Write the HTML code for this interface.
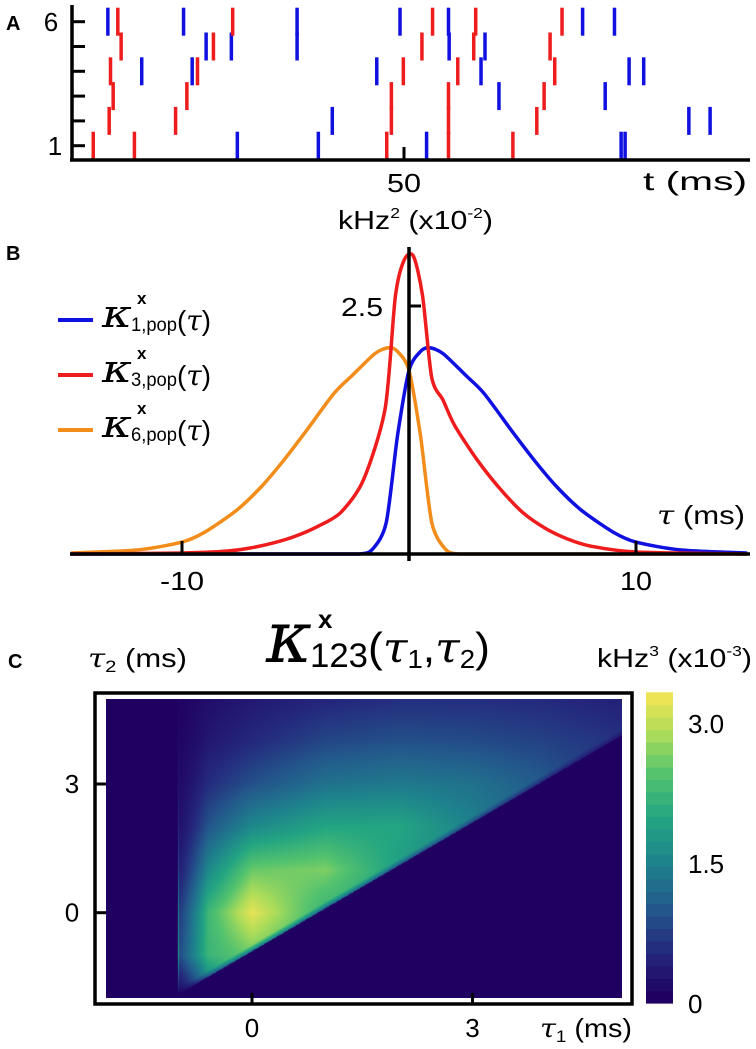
<!DOCTYPE html>
<html><head><meta charset="utf-8"><style>
html,body{margin:0;padding:0;background:#fff;}
#wrap{position:relative;width:756px;height:1049px;overflow:hidden;}
svg{position:absolute;left:0;top:0;}
text{font-family:"Liberation Sans",sans-serif;fill:#000;}
.k{font-family:"DejaVu Serif","Liberation Serif",serif;font-style:italic;}
#heat{position:absolute;left:106px;top:699px;}
</style></head><body>
<div id="wrap">
<canvas id="heat" width="516" height="299"></canvas>
<svg id="fig" width="756" height="1049">
 <g>
  <text x="6" y="30" font-size="20" font-weight="bold">A</text>
  <g id="spikes"></g>
  <line x1="72" y1="5" x2="72" y2="161" stroke="#000" stroke-width="3.5"/>
  <line x1="70" y1="160" x2="750" y2="160" stroke="#000" stroke-width="3.5"/>
  <g id="aticks"></g>
  <line x1="404" y1="147" x2="404" y2="160" stroke="#000" stroke-width="3"/>
  <text x="51" y="31" font-size="26" text-anchor="middle">6</text>
  <text x="55" y="155" font-size="26" text-anchor="middle">1</text>
  <text x="404" y="192" font-size="26" text-anchor="middle" textLength="34" lengthAdjust="spacingAndGlyphs">50</text>
  <text x="643" y="190" font-size="26" textLength="104" lengthAdjust="spacingAndGlyphs">t (ms)</text>
 </g>
 <g>
  <text x="6" y="260" font-size="20" font-weight="bold">B</text>
  <text x="338" y="229" font-size="26" textLength="155" lengthAdjust="spacingAndGlyphs">kHz<tspan font-size="15" dy="-11">2</tspan><tspan dy="11"> (x10</tspan><tspan font-size="15" dy="-11">-2</tspan><tspan dy="11">)</tspan></text>
  <g id="curves"></g>
  <line x1="409" y1="247" x2="409" y2="561" stroke="#000" stroke-width="3.5"/>
  <line x1="70" y1="554" x2="750" y2="554" stroke="#000" stroke-width="3.5"/>
  <g id="bticks"></g>
  <text x="341" y="316" font-size="26" textLength="42" lengthAdjust="spacingAndGlyphs">2.5</text>
  <text x="182" y="590" font-size="26" text-anchor="middle" textLength="44" lengthAdjust="spacingAndGlyphs">-10</text>
  <text x="636" y="590" font-size="26" text-anchor="middle" textLength="32" lengthAdjust="spacingAndGlyphs">10</text>
  <text x="657" y="524" font-size="26" textLength="88" lengthAdjust="spacingAndGlyphs"><tspan class="k">τ</tspan> (ms)</text>
  <g>
   <g>
    <line x1="58" y1="320" x2="93" y2="320" stroke="#1010e0" stroke-width="4"/>
    <text x="102" y="327" font-size="38" class="k" textLength="30" lengthAdjust="spacingAndGlyphs">κ</text>
    <text x="137" y="304" font-size="17" font-weight="bold">x</text>
    <text x="131" y="331" font-size="19" textLength="46" lengthAdjust="spacingAndGlyphs">1,pop</text>
    <text x="177" y="330" font-size="28" textLength="34" lengthAdjust="spacingAndGlyphs">(<tspan class="k">τ</tspan>)</text>
   </g>
   <g>
    <line x1="58" y1="375" x2="93" y2="375" stroke="#ee1c1c" stroke-width="4"/>
    <text x="102" y="382" font-size="38" class="k" textLength="30" lengthAdjust="spacingAndGlyphs">κ</text>
    <text x="137" y="359" font-size="17" font-weight="bold">x</text>
    <text x="131" y="386" font-size="19" textLength="46" lengthAdjust="spacingAndGlyphs">3,pop</text>
    <text x="177" y="385" font-size="28" textLength="34" lengthAdjust="spacingAndGlyphs">(<tspan class="k">τ</tspan>)</text>
   </g>
   <g>
    <line x1="58" y1="430" x2="93" y2="430" stroke="#f28c1a" stroke-width="4"/>
    <text x="102" y="437" font-size="38" class="k" textLength="30" lengthAdjust="spacingAndGlyphs">κ</text>
    <text x="137" y="414" font-size="17" font-weight="bold">x</text>
    <text x="131" y="441" font-size="19" textLength="46" lengthAdjust="spacingAndGlyphs">6,pop</text>
    <text x="177" y="440" font-size="28" textLength="34" lengthAdjust="spacingAndGlyphs">(<tspan class="k">τ</tspan>)</text>
   </g>
  </g>
 </g>
 <g>
  <text x="8" y="668" font-size="20" font-weight="bold">C</text>
  <g>
   <text x="266" y="662" font-size="72" class="k" textLength="46" lengthAdjust="spacingAndGlyphs">κ</text>
   <text x="318" y="628" font-size="26" font-weight="bold">x</text>
   <text x="310" y="667" font-size="34" textLength="58" lengthAdjust="spacingAndGlyphs">123</text>
   <text x="368" y="662" font-size="42" textLength="122" lengthAdjust="spacingAndGlyphs">(<tspan class="k">τ</tspan><tspan font-size="26" dy="6">1</tspan><tspan dy="-6">,</tspan><tspan class="k">τ</tspan><tspan font-size="26" dy="6">2</tspan><tspan dy="-6">)</tspan></text>
  </g>
  <text x="88" y="667" font-size="26" textLength="99" lengthAdjust="spacingAndGlyphs"><tspan class="k">τ</tspan><tspan font-size="17" dy="5">2</tspan><tspan dy="-5"> (ms)</tspan></text>
  <text x="597" y="667" font-size="26" textLength="155" lengthAdjust="spacingAndGlyphs">kHz<tspan font-size="15" dy="-11">3</tspan><tspan dy="11"> (x10</tspan><tspan font-size="15" dy="-11">-3</tspan><tspan dy="11">)</tspan></text>
  <rect x="95" y="693" width="537" height="311" fill="none" stroke="#000" stroke-width="3.5"/>
  <g id="cticks"></g>
  <g id="cbar"></g>
  <text x="540" y="1037" font-size="26" textLength="92" lengthAdjust="spacingAndGlyphs"><tspan class="k">τ</tspan><tspan font-size="17" dy="5">1</tspan><tspan dy="-5"> (ms)</tspan></text>
 </g>
</svg>
</div>
<script>
const rowLabels = [1,2,3,4,5,6];
const redSpikes = [
 [3.2,9.4,47.4,56.7,66.4],
 [5.6,15.6,48.1,56.7,70.0],
 [6.2,17.3,48.1,56.7,71.1],
 [5.8,18.9,49.9,58.1,72.7],
 [7.4,21.3,52.7,60.5,72.0],
 [6.9,24.2,54.3,60.8,73.8]
];
const blueSpikes = [
 [24.9,37.1,53.4,82.7,83.3],
 [39.2,92.9,96.1],
 [64.3,80.3],
 [10.5,18.1,45.9,61.6,83.9,86.1],
 [20.2,24.0,33.9,56.8,62.2],
 [5.4,16.8,33.9,49.4,56.7,76.9,81.7]
];
const tauBlue = [-14.9,-4,-2.2,-1.6,-1.0,-0.5,0,0.5,0.9,1.5,2.5,3.3,4.5,5.5,6.5,7.6,9,10,12,14.9];
const valBlue = [0,0,0,0.05,0.32,1.2,1.85,2.04,2.08,2.02,1.8,1.62,1.25,0.95,0.68,0.44,0.22,0.12,0.04,0.01];
const tauOrange = [-14.9,-12,-10,-9,-7.6,-6.5,-5.5,-4.5,-3.3,-2.5,-1.5,-0.9,-0.5,0,0.5,1.0,1.6,2.2,4,14.9];
const valOrange = [0.01,0.04,0.12,0.22,0.44,0.68,0.95,1.25,1.62,1.8,2.02,2.08,2.04,1.85,1.2,0.32,0.05,0,0,0];
const tauRed = [-14.9,-10,-8,-7,-6,-5,-4,-3,-2,-1.05,-0.6,-0.2,0.2,0.6,1.0,1.5,2,3,4,5,6,7,8,10,14.9];
const valRed = [0,0.01,0.03,0.06,0.11,0.18,0.28,0.42,0.75,1.47,2.6,2.97,3.0,2.6,1.78,1.55,1.3,0.95,0.66,0.42,0.26,0.15,0.08,0.02,0];
const bTickVals = [-10,10];
const bYTick = [2.5];
const tau1Grid = [-1,0,1,2,3,4,5];
const tau2Grid = [-2,-1,0,1,2,3,4,5];
const kGrid = [
 [0,0,0,0,0,0,0],
 [2.0,2.6,0,0,0,0,0],
 [1.6,3.3,2.2,0,0,0,0],
 [0.9,2.6,2.7,1.9,0,0,0],
 [0.5,1.6,2.0,2.0,1.5,0,0],
 [0.3,0.9,1.3,1.4,1.3,1.0,0],
 [0.15,0.5,0.8,0.9,0.85,0.75,0.6],
 [0.08,0.3,0.45,0.55,0.55,0.5,0.4]
];
const cTickVals = [0,3];
const cbarTicks = [0,1.5,3.0];
const cbarTickLabels = ["0","1.5","3.0"];
const cMax = 3.33;

const NS = "http://www.w3.org/2000/svg";
function mk(tag, attrs, parent){ const e=document.createElementNS(NS,tag); for(const k in attrs) e.setAttribute(k,attrs[k]); parent.appendChild(e); return e; }

const ax = t => 72 + t*6.64;
const ay = r => 145.7 - (r-1)*24.8;
const spikesG = document.getElementById('spikes');
rowLabels.forEach((r,i)=>{
  redSpikes[i].forEach(t=>{
    const l = mk('line',{x1:ax(t),x2:ax(t),y1:ay(r)-14,y2:ay(r)+14,stroke:'#ee1c1c','stroke-width':3.5},spikesG);
    
    
  });
  blueSpikes[i].forEach(t=>{
    const l = mk('line',{x1:ax(t),x2:ax(t),y1:ay(r)-14,y2:ay(r)+14,stroke:'#1010e0','stroke-width':3.5},spikesG);
    
    
  });
});
const aticks = document.getElementById('aticks');
rowLabels.forEach(r=>{
  const t = mk('line',{x1:72,x2:85,y1:ay(r),y2:ay(r),stroke:'#000','stroke-width':3},aticks);
  
  
});

const bx = t => 409 + t*22.7;
const by = v => 554 - v*99.2;
const curvesG = document.getElementById('curves');
function curve(ts, vs, color, name){
  const P = ts.map((t,i)=>[bx(t),by(vs[i])]);
  let d = 'M'+P[0][0].toFixed(1)+','+P[0][1].toFixed(1);
  for(let i=0;i<P.length-1;i++){
    const p0=P[Math.max(0,i-1)],p1=P[i],p2=P[i+1],p3=P[Math.min(P.length-1,i+2)];
    const s=1/6*0.8;
    let c1=[p1[0]+(p2[0]-p0[0])*s,p1[1]+(p2[1]-p0[1])*s];
    let c2=[p2[0]-(p3[0]-p1[0])*s,p2[1]-(p3[1]-p1[1])*s];
    c1[1]=Math.min(554,c1[1]); c2[1]=Math.min(554,c2[1]);
    d+='C'+c1[0].toFixed(1)+','+c1[1].toFixed(1)+' '+c2[0].toFixed(1)+','+c2[1].toFixed(1)+' '+p2[0].toFixed(1)+','+p2[1].toFixed(1);
  }
  const p = mk('path',{d:d,fill:'none',stroke:color,'stroke-width':3.5,'stroke-linejoin':'round'},curvesG);
  
  
}
curve(tauOrange,valOrange,'#f28c1a','curve-k6');
curve(tauBlue,valBlue,'#1010e0','curve-k1');
curve(tauRed,valRed,'#ee1c1c','curve-k3');
const bticks = document.getElementById('bticks');
bTickVals.forEach(v=>{
  const t = mk('line',{x1:bx(v),x2:bx(v),y1:541,y2:554,stroke:'#000','stroke-width':3},bticks);
  
  
});
bYTick.forEach(v=>{
  const t = mk('line',{x1:409,x2:421,y1:by(v),y2:by(v),stroke:'#000','stroke-width':3},bticks);
  
  
});

const cx = t => 252 + t*73.5;
const cy = t => 912.7 - t*42.9;
const stops = [[0,[32,0,96]],[0.15,[36,40,125]],[0.3,[35,90,140]],[0.45,[30,130,140]],[0.6,[35,165,130]],[0.75,[85,195,110]],[0.88,[170,220,90]],[1,[236,228,84]]];
function cmap(f){
  f=Math.max(0,Math.min(1,f));
  for(let i=1;i<stops.length;i++){ if(f<=stops[i][0]){ const a=stops[i-1],b=stops[i]; const u=(f-a[0])/(b[0]-a[0]); return a[1].map((c,j)=>Math.round(c+(b[1][j]-c)*u)); } }
  return stops[stops.length-1][1];
}
const NB = 25;
const G = kGrid.map(r=>r.slice());
for(let j=0;j<tau1Grid.length;j++){
  for(let i=tau2Grid.length-1;i>=0;i--){
    if(tau2Grid[i] < tau1Grid[j]-1 && i+1<tau2Grid.length) G[i][j]=G[i+1][j];
  }
}
function val(t1,t2){
  if(t1 < -1 || t2 < t1-0.9) return 0;
  let fj=(t1-tau1Grid[0]), fi=(t2-tau2Grid[0]);
  fj=Math.max(0,Math.min(tau1Grid.length-1.001,fj)); fi=Math.max(0,Math.min(tau2Grid.length-1.001,fi));
  const j=Math.floor(fj), i=Math.floor(fi), u=fj-j, w=fi-i;
  return G[i][j]*(1-u)*(1-w)+G[i][j+1]*u*(1-w)+G[i+1][j]*(1-u)*w+G[i+1][j+1]*u*w;
}
const cv = document.getElementById('heat'), ctx = cv.getContext('2d');
const img = ctx.createImageData(cv.width,cv.height);
for(let py=0;py<cv.height;py++){
  const t2 = (912.7-(699+py+0.5))/42.9;
  for(let px=0;px<cv.width;px++){
    const t1 = ((106+px+0.5)-252)/73.5;
    let v = val(t1,t2);
    if(t1>-1 && t1<-0.6) v *= (t1+1)/0.4*0.6+0.4;
    const d = t2-(t1-0.9);
    if(d>0 && d<0.15) v *= 0.5+0.5*d/0.15;
    const c = cmap(v/cMax);
    const k=(py*cv.width+px)*4; img.data[k]=c[0];img.data[k+1]=c[1];img.data[k+2]=c[2];img.data[k+3]=255;
  }
}
ctx.putImageData(img,0,0);
const cticks = document.getElementById('cticks');
cTickVals.forEach(v=>{
  const a = mk('line',{x1:cx(v),x2:cx(v),y1:993,y2:1005,stroke:'#000','stroke-width':3},cticks);
  
  
  const b = mk('line',{x1:95,x2:106,y1:cy(v),y2:cy(v),stroke:'#000','stroke-width':3},cticks);
  
  
  const tx = mk('text',{x:cx(v),y:1037,'font-size':26,'text-anchor':'middle'},cticks);
  tx.textContent = String(v);
  
  
  const ty = mk('text',{x:72,y:cy(v)+9,'font-size':26,'text-anchor':'middle'},cticks);
  ty.textContent = String(v);
  
  
});
const cbar = document.getElementById('cbar');
const cbY = v => 1003 - v*93.3;
for(let b=0;b<NB;b++){
  const v0=b*cMax/NB, v1=(b+1)*cMax/NB;
  const c = cmap(b/(NB-1));
  const r = mk('rect',{x:646,y:cbY(v1),width:27,height:cbY(v0)-cbY(v1)+0.6,fill:`rgb(${c[0]},${c[1]},${c[2]})`},cbar);
  
  
}
cbarTicks.forEach((v,i)=>{
  const t = mk('text',{x:688,y:cbY(v)+10,'font-size':26},cbar);
  t.textContent = cbarTickLabels[i];
  
  
});
</script>
</body></html>
